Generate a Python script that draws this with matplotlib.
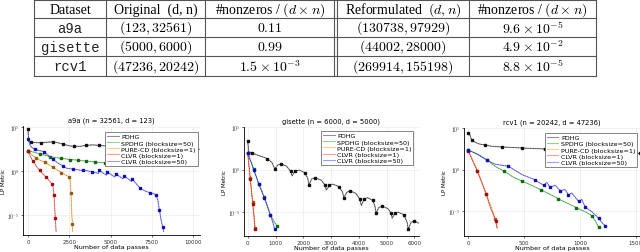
import numpy as np
import matplotlib
matplotlib.use("Agg")
import matplotlib.pyplot as plt

plt.rcParams["mathtext.fontset"] = "cm"

# =========================
# table data
# =========================
header = ["Dataset", "Original  (d, n)", r"#nonzeros / $(d \times n)$",
          r"Reformulated  $(d, n)$", r"#nonzeros / $(d \times n)$"]
datasets = ["a9a", "gisette", "rcv1"]
orig_dn = [r"$(123, 32561)$", r"$(5000, 6000)$", r"$(47236, 20242)$"]
orig_nnz = [r"$0.11$", r"$0.99$", r"$1.5 \times 10^{-3}$"]
reform_dn = [r"$(130738, 97929)$", r"$(44002, 28000)$", r"$(269914, 155198)$"]
reform_nnz = [r"$9.6 \times 10^{-5}$", r"$4.9 \times 10^{-2}$", r"$8.8 \times 10^{-5}$"]

# =========================
# curves (x = data passes, y = log10 LP metric)
# =========================
methods = ["PDHG", "SPDHG (blocksize=50)", "PURE-CD (blocksize=1)",
           "CLVR (blocksize=1)", "CLVR (blocksize=50)"]

# a9a
a9a_pdhg_x = [0, 30, 200, 500, 800, 1100, 1500, 1800, 2100, 2500, 2800, 3200, 3500, 3900,
              4300, 4700, 5100, 5500, 6000, 6500, 7000, 7500, 8000, 8500, 9000, 9500, 10000, 10400]
a9a_pdhg_y = [4.8, 3.4, 3.25, 3.2, 3.2, 3.25, 3.3, 3.2, 3.05, 2.85, 2.78, 2.8, 2.9, 2.95,
              2.9, 2.85, 2.9, 2.95, 2.8, 2.85, 2.9, 2.8, 2.75, 2.7, 2.65, 2.6, 2.5, 2.45]
a9a_spdhg_x = [0, 300, 700, 1000, 1313, 1700, 2020, 2300, 2525, 2800, 3030, 3300, 3535, 3800, 4040, 4350, 4646]
a9a_spdhg_y = [2.3, 2.15, 1.95, 1.8, 1.63, 1.5, 1.42, 1.35, 1.28, 1.25, 1.2, 1.15, 1.1, 1.05, 1.0, 0.95, 0.9]
a9a_pure_x = [0, 250, 500, 750, 1000, 1250, 1500, 1750, 2000, 2250, 2500, 2560, 2600, 2640, 2680, 2700]
a9a_pure_y = [2.27, 1.8, 1.45, 1.2, 0.98, 0.7, 0.42, 0.12, -0.19, -0.45, -0.7, -1.2, -2.5, -4.5, -6.0, -6.9]
a9a_clvr1_x = [0, 150, 300, 500, 700, 900, 1100, 1300, 1450, 1520, 1570, 1610, 1650, 1700]
a9a_clvr1_y = [2.27, 1.6, 1.1, 0.55, 0.05, -0.35, -0.72, -1.15, -1.5, -1.9, -2.8, -4.0, -5.4, -6.9]
a9a_clvr50_x = [0, 150, 400, 700, 950, 1200, 1500, 1800, 2100, 2350, 2700, 3000, 3300, 3600, 3900,
                4250, 4300, 4750, 4800, 5250, 5300, 5750, 5800, 6250, 6300, 6600, 6800, 7100,
                7400, 7600, 7750, 7850, 7950, 8050, 8150, 8200]
a9a_clvr50_y = [3.6, 2.8, 2.45, 2.3, 2.2, 1.8, 1.3, 0.9, 0.55, 0.3, 0.2, 0.12, 0.05, 0.0, -0.1,
                -0.3, 0.05, -0.5, -0.15, -0.7, -0.35, -0.9, -0.55, -1.2, -0.9, -1.6, -2.0, -2.3,
                -2.5, -2.6, -2.8, -3.3, -4.5, -5.6, -6.4, -6.9]

# gisette
gis_pdhg_x = [0, 30, 150, 400, 700, 880, 972, 1080, 1212, 1400, 1540, 1596, 1700, 1850, 2050, 2160,
              2208, 2300, 2430, 2650, 2780, 2832, 2940, 3060, 3280, 3410, 3460, 3570, 3690, 3900,
              4040, 4090, 4200, 4320, 4500, 4580, 4620, 4720, 4850, 5050, 5160, 5200, 5300, 5420,
              5620, 5740, 5780, 5880, 6000, 6150]
gis_pdhg_y = [3.4, 2.1, 1.95, 1.65, 1.3, 0.8, 0.07, 0.55, 0.67, 0.4, -0.2, -0.74, -0.2, -0.05,
              -0.35, -1.0, -1.8, -1.1, -0.95, -1.25, -1.8, -2.4, -1.85, -1.7, -2.0, -2.6, -3.3,
              -2.65, -2.5, -2.8, -3.5, -4.2, -3.45, -3.3, -3.6, -4.3, -5.1, -4.45, -4.3, -4.6,
              -5.1, -5.7, -5.1, -5.0, -5.3, -6.2, -7.0, -6.2, -6.0, -6.3]
gis_spdhg_x = [0, 108, 216, 306, 396, 498, 600, 708, 816, 930, 1044]
gis_spdhg_y = [1.95, 1.0, 0.02, -0.8, -1.65, -2.45, -3.25, -4.3, -5.3, -6.0, -6.6]
gis_pure_x = [0, 45, 90, 135, 180, 225, 270]
gis_pure_y = [1.95, 0.5, -0.95, -2.4, -3.85, -5.3, -6.9]
gis_clvr1_x = [0, 45, 90, 135, 180, 225, 255]
gis_clvr1_y = [1.95, 0.45, -1.05, -2.55, -4.0, -5.5, -7.0]
gis_clvr50_x = [0, 108, 216, 306, 396, 498, 600, 708, 816, 900, 972]
gis_clvr50_y = [1.95, 0.98, 0.0, -0.82, -1.7, -2.5, -3.3, -4.3, -5.35, -6.15, -7.0]

# rcv1
rcv_pdhg_x = [0, 9, 30, 90, 150, 210, 300, 389, 480, 569, 690, 808, 950, 1108, 1250, 1407, 1540]
rcv_pdhg_y = [4.4, 4.3, 3.5, 3.1, 2.95, 2.8, 2.72, 2.66, 2.6, 2.54, 2.48, 2.42, 2.35, 2.27, 2.15, 2.03, 1.95]
rcv_spdhg_x = [0, 81, 165, 240, 320, 401, 479, 563, 650, 725, 808, 883, 967, 1060, 1108, 1138, 1168]
rcv_spdhg_y = [2.34, 1.88, 1.17, 0.39, -0.2, -0.9, -1.37, -1.88, -2.42, -2.93, -3.52, -4.02,
               -4.57, -5.16, -5.55, -6.17, -6.95]
rcv_pure_x = [0, 40, 81, 120, 160, 200, 240, 263]
rcv_pure_y = [2.23, 1.05, -0.15, -1.5, -2.9, -4.4, -5.9, -7.1]
rcv_clvr1_x = [0, 40, 81, 120, 159, 200, 246, 254]
rcv_clvr1_y = [2.23, 1.0, -0.2, -1.6, -2.97, -4.7, -6.17, -7.0]
rcv_clvr50_x = [0, 90, 162, 237, 359, 479, 599, 644, 674, 704, 734, 778, 823, 868, 898, 928,
                988, 1018, 1048, 1108, 1168, 1198, 1228]
rcv_clvr50_y = [2.34, 1.76, 1.17, 0.66, 0.39, -0.59, -1.25, -1.64, -1.88, -1.56, -2.15, -1.88,
                -2.54, -2.42, -3.05, -2.81, -3.83, -3.6, -4.5, -5.08, -5.86, -6.37, -6.76]

line_colors = ["#444444", "#4cb84c", "#ffb53a", "#ff5a5a", "#5a5aff"]
mark_colors = ["#111111", "#0b6b0b", "#9a5a10", "#a01010", "#1010b0"]

fig = plt.figure(figsize=(6.4, 2.53), dpi=100)

# =========================
# table
# =========================
tab = fig.add_axes([0, 0, 1, 1])
tab.set_xlim(0, 640)
tab.set_ylim(253, 0)
tab.axis("off")

col_edges = [34, 106, 205, 334, 337, 469, 596]
row_edges = [1, 19, 38, 57, 77]
for xe in col_edges:
    tab.plot([xe, xe], [row_edges[0], row_edges[-1]], color="#555555", lw=0.8)
for ye in row_edges:
    tab.plot([col_edges[0], col_edges[-1]], [ye, ye], color="#555555", lw=0.8)

centers = [70, 155.5, 270, 403, 532.5]
serif = ["Liberation Serif", "DejaVu Serif"]
rows = [header] + [list(r) for r in zip(datasets, orig_dn, orig_nnz, reform_dn, reform_nnz)]
for i, row in enumerate(rows):
    yc = (row_edges[i] + row_edges[i + 1]) / 2
    for j, txt in enumerate(row):
        if i > 0 and j == 0:
            tab.text(centers[j], yc, txt, ha="center", va="center", fontsize=10,
                     family=["Liberation Mono"], color="#222222")
        else:
            tab.text(centers[j], yc, txt, ha="center", va="center", fontsize=10, family=serif)

# =========================
# plots
# =========================
panels = [
    ("a9a (n = 32561, d = 123)", [0.036, 0.067, 0.277, 0.431], (-300, 10420), (-7.3, 5.1),
     [0, 2500, 5000, 7500, 10000],
     [(a9a_pdhg_x, a9a_pdhg_y), (a9a_spdhg_x, a9a_spdhg_y), (a9a_pure_x, a9a_pure_y),
      (a9a_clvr1_x, a9a_clvr1_y), (a9a_clvr50_x, a9a_clvr50_y)],
     dict(loc="upper right", bbox_to_anchor=(0.985, 0.945))),
    ("gisette (n = 6000, d = 5000)", [0.381, 0.063, 0.273, 0.431], (-140, 6150), (-7.8, 3.8),
     [0, 1000, 2000, 3000, 4000, 5000, 6000],
     [(gis_pdhg_x, gis_pdhg_y), (gis_spdhg_x, gis_spdhg_y), (gis_pure_x, gis_pure_y),
      (gis_clvr1_x, gis_clvr1_y), (gis_clvr50_x, gis_clvr50_y)],
     dict(loc="upper right", bbox_to_anchor=(0.971, 0.963))),
    ("rcv1 (n = 20242, d = 47236)", [0.725, 0.063, 0.275, 0.427], (-40, 1540), (-8.0, 4.57),
     [0, 500, 1000, 1500],
     [(rcv_pdhg_x, rcv_pdhg_y), (rcv_spdhg_x, rcv_spdhg_y), (rcv_pure_x, rcv_pure_y),
      (rcv_clvr1_x, rcv_clvr1_y), (rcv_clvr50_x, rcv_clvr50_y)],
     dict(loc="upper left", bbox_to_anchor=(0.46, 0.954))),
]

for title, rect, xl, yl, xt, curves, leg_kw in panels:
    ax = fig.add_axes(rect)
    for k, (x, ly) in enumerate(curves):
        y = 10.0 ** np.array(ly)
        ax.plot(x, y, color=line_colors[k], lw=0.8, alpha=0.6, label=methods[k])
        ax.plot(x, y, color=mark_colors[k], lw=0.3, ls=(0, (4, 2)), marker="s", ms=1.9,
                markevery=2)
    ax.set_yscale("log")
    ax.set_xlim(*xl)
    ax.set_ylim(10.0 ** yl[0], 10.0 ** yl[1])
    ax.set_xticks(xt)
    ax.set_xticklabels([str(v) for v in xt])
    ax.set_yticks([1e-5, 1e0, 1e5])
    ax.set_yticklabels([r"$10^{-5}$", r"$10^{0}$", r"$10^{5}$"])
    ax.minorticks_off()
    ax.tick_params(labelsize=4.0, length=1.5, width=0.5, colors="#333333", pad=1)
    ax.grid(True, color="#ececec", lw=0.5)
    for s in ["top", "right"]:
        ax.spines[s].set_visible(False)
    for s in ["left", "bottom"]:
        ax.spines[s].set_linewidth(0.6)
    ax.set_title(title, fontsize=4.9, pad=3)
    ax.set_xlabel("Number of data passes", fontsize=4.6, labelpad=0.5)
    ax.set_ylabel("LP Metric", fontsize=4.0, labelpad=0.5)
    leg = ax.legend(fontsize=4.6, frameon=True, fancybox=False, framealpha=1,
                    edgecolor="#555555", handlelength=1.8, borderpad=0.3, labelspacing=0.1,
                    handletextpad=0.4, borderaxespad=0, **leg_kw)
    leg.get_frame().set_linewidth(0.5)

plt.savefig("out.png", dpi=100)
